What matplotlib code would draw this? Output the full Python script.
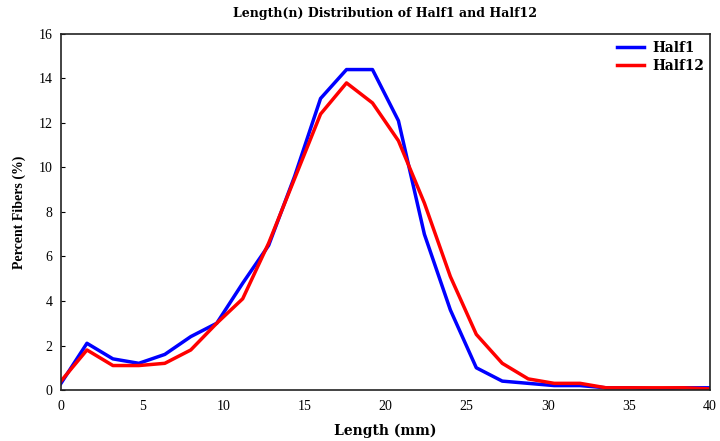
import matplotlib
matplotlib.use("Agg")
import matplotlib.pyplot as plt

length_mm = [0.0, 1.6, 3.2, 4.8, 6.4, 8.0, 9.6, 11.2, 12.8, 14.4, 16.0, 17.6, 19.2,
             20.8, 22.4, 24.0, 25.6, 27.2, 28.8, 30.4, 32.0, 33.6, 35.2, 36.8, 38.4, 40.0]
half1 = [0.3, 2.1, 1.4, 1.2, 1.6, 2.4, 3.0, 4.8, 6.5, 9.6, 13.1, 14.4, 14.4,
         12.1, 7.0, 3.6, 1.0, 0.4, 0.3, 0.2, 0.2, 0.1, 0.1, 0.05, 0.1, 0.1]
half12 = [0.4, 1.8, 1.1, 1.1, 1.2, 1.8, 3.0, 4.1, 6.6, 9.5, 12.4, 13.8, 12.9,
          11.2, 8.4, 5.1, 2.5, 1.2, 0.5, 0.3, 0.3, 0.1, 0.1, 0.1, 0.1, 0.05]
x_ticks = [0, 5, 10, 15, 20, 25, 30, 35, 40]
y_ticks = [0, 2, 4, 6, 8, 10, 12, 14, 16]

plt.rcParams['font.family'] = ['Liberation Serif', 'DejaVu Serif']
wide = ['DejaVu Serif', 'Liberation Serif']

fig = plt.figure(figsize=(7.2, 4.41), dpi=100)
ax = fig.add_axes([0.0847, 0.1156, 0.9013, 0.8074])

ax.plot(length_mm, half1, color='#0000ff', lw=2.5, label='Half1')
ax.plot(length_mm, half12, color='#ff0000', lw=2.5, label='Half12')

ax.set_xlim(0, 40)
ax.set_ylim(0, 16)
ax.set_xticks(x_ticks)
ax.set_yticks(y_ticks)
ax.tick_params(axis='y', direction='in', length=3, labelsize=10, pad=6)
ax.tick_params(axis='x', direction='in', length=0, labelsize=10, pad=7)
for s in ax.spines.values():
    s.set_linewidth(1.2)
    s.set_color('#222222')

ax.set_title('Length(n) Distribution of Half1 and Half12', fontsize=9, fontweight='bold',
             family=wide, pad=12)
ax.set_xlabel('Length (mm)', fontsize=10, fontweight='bold', family=wide, labelpad=8)
ax.set_ylabel('Percent Fibers (%)', fontsize=10, fontweight='bold', labelpad=9)

leg = ax.legend(loc='upper right', frameon=False,
                prop={'weight': 'bold', 'size': 9.8, 'family': wide},
                handlelength=2.0, handletextpad=0.6, borderaxespad=0.0, labelspacing=0.25,
                bbox_to_anchor=(0.999, 0.995))

fig.savefig('out.png', dpi=100)
